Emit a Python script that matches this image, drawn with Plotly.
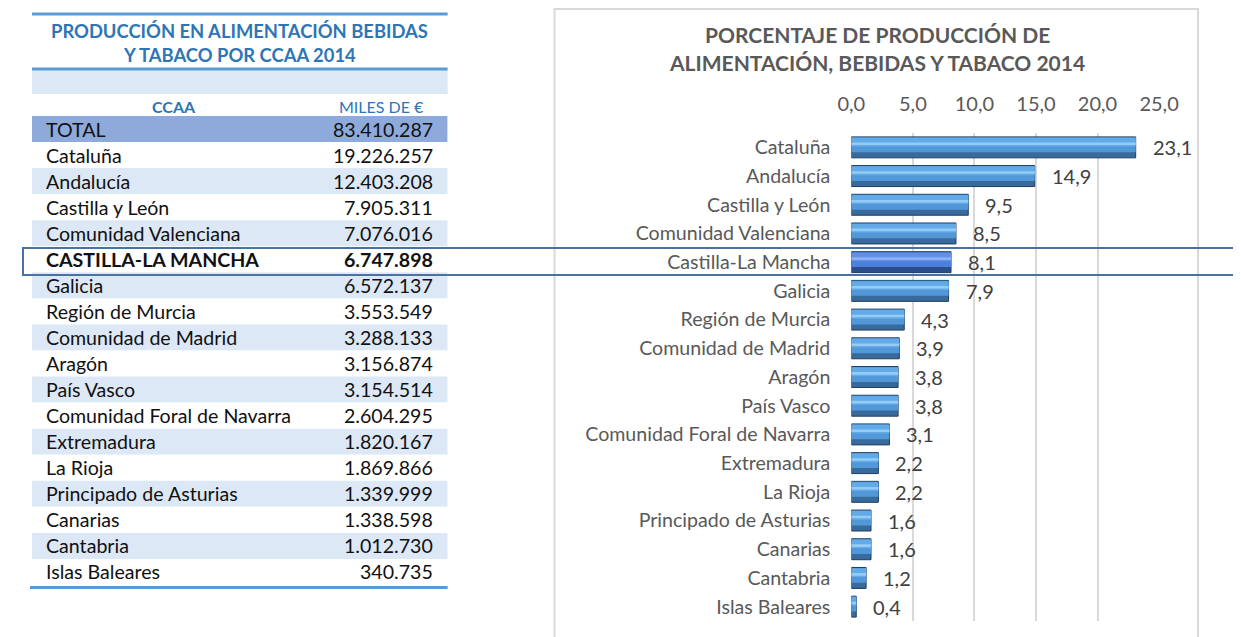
import plotly.graph_objects as go

W, H = 1241, 637

# ---------------- data ----------------
regions = ["Cataluña", "Andalucía", "Castilla y León", "Comunidad Valenciana",
           "Castilla-La Mancha", "Galicia", "Región de Murcia", "Comunidad de Madrid",
           "Aragón", "País Vasco", "Comunidad Foral de Navarra", "Extremadura",
           "La Rioja", "Principado de Asturias", "Canarias", "Cantabria", "Islas Baleares"]
table_names = ["Cataluña", "Andalucía", "Castilla y León", "Comunidad Valenciana",
               "CASTILLA-LA MANCHA", "Galicia", "Región de Murcia", "Comunidad de Madrid",
               "Aragón", "País Vasco", "Comunidad Foral de Navarra", "Extremadura",
               "La Rioja", "Principado de Asturias", "Canarias", "Cantabria", "Islas Baleares"]
miles_eur = [19226257, 12403208, 7905311, 7076016, 6747898, 6572137, 3553549, 3288133,
             3156874, 3154514, 2604295, 1820167, 1869866, 1339999, 1338598, 1012730, 340735]
total_label = "TOTAL"
total_value = 83410287
pct = [23.1, 14.9, 9.5, 8.5, 8.1, 7.9, 4.3, 3.9, 3.8, 3.8, 3.1, 2.2, 2.2, 1.6, 1.6, 1.2, 0.4]
highlight = "Castilla-La Mancha"
x_ticks = [0, 5, 10, 15, 20, 25]

table_title = ["PRODUCCIÓN EN ALIMENTACIÓN BEBIDAS", "Y TABACO POR CCAA 2014"]
chart_title = ["PORCENTAJE DE PRODUCCIÓN DE", "ALIMENTACIÓN, BEBIDAS Y TABACO 2014"]
header = ["CCAA", "MILES DE €"]

FONT = "Lato"
BLUE_T = "#2e75b6"
LINE_B = "#5b9bd5"
BAND = "#dce8f6"
TOTAL_FILL = "#8eaadb"
GREY = "#595959"
TXT = 19.6

# screen-pixel -> paper helpers (calibrated to how the page is displayed)
OX, SX = 21.0, 1208.0
OY = 8


def PX(x):
    return (x - OX) / SX


def PY(y):
    return 1 - (y - OY) / H


def fmt_int(v):
    return f"{v:,}".replace(",", ".")


def fmt_pct(v):
    return f"{v:.1f}".replace(".", ",")


fig = go.Figure()

# ---------------- table (own cartesian axes) ----------------
row_names = [total_label] + table_names
row_regions = [None] + regions
row_values = [total_value] + miles_eur
row_fill = [TOTAL_FILL] + [BAND if i % 2 == 1 else "white" for i in range(len(regions))]

fig.add_trace(go.Bar(x=[1] * len(row_names), y=row_names, orientation="h", width=1, base=0,
                     marker=dict(color=row_fill, line=dict(width=0)),
                     xaxis="x2", yaxis="y2", hoverinfo="skip", showlegend=False))

annotations = []
for name, reg, val in zip(row_names, row_regions, row_values):
    bold = reg == highlight
    n_txt = f"<b>{name}</b>" if bold else name
    v_txt = f"<b>{fmt_int(val)}</b>" if bold else fmt_int(val)
    annotations.append(dict(x=0, y=name, xref="x2", yref="y2", text=n_txt, showarrow=False,
                            xanchor="left", xshift=12, yanchor="middle",
                            font=dict(family=FONT, size=TXT, color="#111111")))
    annotations.append(dict(x=1, y=name, xref="x2", yref="y2", text=v_txt, showarrow=False,
                            xanchor="right", xshift=-13, yanchor="middle",
                            font=dict(family=FONT, size=TXT, color="#111111")))

# header row
annotations.append(dict(x=PX(173), y=PY(106), xref="paper", yref="paper", text=f"<b>{header[0]}</b>",
                        showarrow=False, xanchor="center", yanchor="middle",
                        font=dict(family=FONT, size=16, color=BLUE_T)))
annotations.append(dict(x=PX(381), y=PY(106), xref="paper", yref="paper", text=header[1],
                        showarrow=False, xanchor="center", yanchor="middle",
                        font=dict(family=FONT, size=16, color=BLUE_T)))

# ---------------- bar chart (bevelled look with stacked overlays) ----------------
base_col = ["#2a4e8c" if r == highlight else "#386a9c" for r in regions]
mid_col = ["#4d80dc" if r == highlight else "#5298d8" for r in regions]
up_col = ["#608fe6" if r == highlight else "#62aae8" for r in regions]
top_col = ["#8cb0f2" if r == highlight else "#94ccf5" for r in regions]

fig.add_trace(go.Bar(x=pct, y=regions, orientation="h", width=0.73, offset=-0.365,
                     marker=dict(color=base_col, line=dict(color="#1f3d60", width=1)),
                     hoverinfo="skip", showlegend=False))
fig.add_trace(go.Bar(x=pct, y=regions, orientation="h", width=0.52, offset=-0.17,
                     marker=dict(color=mid_col, line=dict(width=0)),
                     hoverinfo="skip", showlegend=False))
fig.add_trace(go.Bar(x=pct, y=regions, orientation="h", width=0.3, offset=0.03,
                     marker=dict(color=up_col, line=dict(width=0)),
                     hoverinfo="skip", showlegend=False))
fig.add_trace(go.Bar(x=pct, y=regions, orientation="h", width=0.09, offset=0.08,
                     marker=dict(color=top_col, line=dict(width=0)),
                     hoverinfo="skip", showlegend=False))

for v, r in zip(pct, regions):
    annotations.append(dict(x=v, y=r, xref="x", yref="y", text=fmt_pct(v), showarrow=False,
                            xanchor="left", xshift=15,
                            font=dict(family=FONT, size=20, color="#404040")))

# titles
for i, t in enumerate(table_title):
    annotations.append(dict(x=PX(239), y=PY(31 + 24 * i), xref="paper", yref="paper",
                            text=f"<b>{t}</b>", showarrow=False, xanchor="center", yanchor="middle",
                            font=dict(family=FONT, size=18.4, color=BLUE_T)))
for i, t in enumerate(chart_title):
    annotations.append(dict(x=PX(877), y=PY(35 + 27 * i), xref="paper", yref="paper",
                            text=f"<b>{t}</b>", showarrow=False, xanchor="center", yanchor="middle",
                            font=dict(family=FONT, size=21, color=GREY)))

shapes = [
    # chart border
    dict(type="rect", xref="paper", yref="paper", x0=PX(554), x1=PX(1198), y0=-0.05, y1=PY(9),
         line=dict(color="#d9d9d9", width=2), fillcolor="rgba(0,0,0,0)", layer="below"),
    # table rules
    dict(type="line", xref="paper", yref="paper", x0=PX(31), x1=PX(447), y0=PY(14), y1=PY(14),
         line=dict(color=LINE_B, width=3)),
    dict(type="rect", xref="paper", yref="paper", x0=PX(31), x1=PX(447), y0=PY(94), y1=PY(70),
         line=dict(width=0), fillcolor=BAND),
    dict(type="line", xref="paper", yref="paper", x0=PX(31), x1=PX(447), y0=PY(69), y1=PY(69),
         line=dict(color=LINE_B, width=3)),
    dict(type="line", xref="paper", yref="paper", x0=PX(29), x1=PX(447), y0=PY(587.5), y1=PY(587.5),
         line=dict(color=LINE_B, width=3)),
    # highlight frame
    dict(type="rect", xref="paper", yref="paper", x0=PX(22), x1=1.03, y0=PY(275), y1=PY(248),
         line=dict(color="#4a72a0", width=2), fillcolor="rgba(0,0,0,0)"),
]

fig.update_layout(
    width=W, height=H, margin=dict(l=0, r=0, t=0, b=0),
    paper_bgcolor="white", plot_bgcolor="rgba(0,0,0,0)",
    separators=",.", barmode="overlay", showlegend=False,
    font=dict(family=FONT, color=GREY),
    xaxis=dict(domain=[PX(851), PX(1159)], range=[0, 25], side="top",
               tickvals=x_ticks, tickformat=".1f", showgrid=True, gridcolor="#d9d9d9",
               gridwidth=1.5, zeroline=False, showline=False, ticks="",
               ticklabelstandoff=17, tickfont=dict(family=FONT, size=20, color=GREY)),
    yaxis=dict(domain=[PY(621), PY(133)], type="category",
               categoryorder="array", categoryarray=regions[::-1],
               showgrid=False, zeroline=False, showline=False, ticks="",
               ticklabelstandoff=20, tickfont=dict(family=FONT, size=TXT, color=GREY)),
    xaxis2=dict(domain=[PX(31), PX(447)], range=[0, 1], visible=False, fixedrange=True),
    yaxis2=dict(domain=[PY(585), PY(116)], type="category", anchor="x2",
                categoryorder="array", categoryarray=row_names[::-1],
                range=[-0.5, len(row_names) - 0.5], visible=False, fixedrange=True),
    annotations=annotations, shapes=shapes,
)

fig.write_html("out.html")
